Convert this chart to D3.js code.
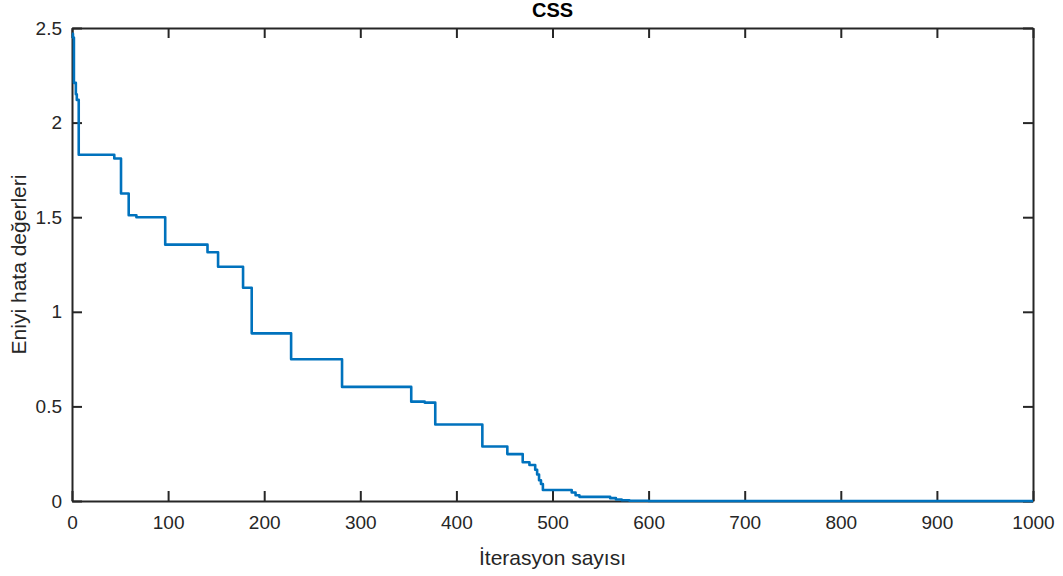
<!DOCTYPE html>
<html>
<head>
<meta charset="utf-8">
<script src="https://cdn.jsdelivr.net/npm/d3@7"></script>
<style>
  body { margin: 0; background: #fff; }
  svg { display: block; font-family: "Liberation Sans", Arial, Helvetica, sans-serif; }
</style>
</head>
<body>
<svg id="chart" width="1063" height="576"></svg>
<script>
// Data: change points of best error (iteration, value), drawn as step-after line
const iterations = [0, 1, 2, 4, 5, 7, 44, 51, 59, 67, 97, 141, 152, 178, 187, 228, 281, 353, 367, 378, 427, 453, 469, 476, 482, 484, 486, 488, 490, 520, 524, 528, 560, 566, 572, 580, 600, 1000];
const bestValues = [2.47, 2.45, 2.21, 2.15, 2.12, 1.83, 1.81, 1.625, 1.51, 1.50, 1.355, 1.315, 1.238, 1.127, 0.886, 0.749, 0.603, 0.525, 0.52, 0.404, 0.288, 0.248, 0.205, 0.19, 0.165, 0.14, 0.11, 0.09, 0.058, 0.045, 0.03, 0.022, 0.015, 0.008, 0.004, 0.001, 0, 0];
const xTicks = [0, 100, 200, 300, 400, 500, 600, 700, 800, 900, 1000];
const yTicks = [0, 0.5, 1, 1.5, 2, 2.5];
const titleText = "CSS";
const xLabel = "İterasyon sayısı";
const yLabel = "Eniyi hata değerleri";

const svg = d3.select("#chart");
const mLeft = 72, mRight = 1033, mTop = 28, mBottom = 501;
const x = d3.scaleLinear().domain([0, 1000]).range([mLeft, mRight]);
const y = d3.scaleLinear().domain([0, 2.5]).range([mBottom, mTop]);
const axisColor = "#262626";
const fs = 19;
const labelFs = 21;

// Axes with inward ticks
const gx = svg.append("g").attr("transform", `translate(0,${mBottom})`)
  .call(d3.axisBottom(x).tickValues(xTicks).tickSizeInner(-10).tickSizeOuter(0).tickPadding(15).tickFormat(d3.format("d")));
const gxTop = svg.append("g").attr("transform", `translate(0,${mTop})`)
  .call(d3.axisTop(x).tickValues(xTicks).tickSizeInner(-10).tickSizeOuter(0).tickFormat(""));
const gy = svg.append("g").attr("transform", `translate(${mLeft},0)`)
  .call(d3.axisLeft(y).tickValues(yTicks).tickSizeInner(-10).tickSizeOuter(0).tickPadding(10).tickFormat(d => String(d)));
const gyRight = svg.append("g").attr("transform", `translate(${mRight},0)`)
  .call(d3.axisRight(y).tickValues(yTicks).tickSizeInner(-10).tickSizeOuter(0).tickFormat(""));

[gx, gxTop, gy, gyRight].forEach(g => {
  g.select(".domain").attr("stroke", axisColor).attr("stroke-width", 2);
  g.selectAll(".tick line").attr("stroke", axisColor).attr("stroke-width", 2);
  g.selectAll(".tick text").attr("fill", axisColor).attr("font-size", fs)
    .attr("font-family", "'Liberation Sans', Arial, Helvetica, sans-serif");
});
gx.selectAll(".tick text").attr("dy", "0.71em");

// Line
const data = iterations.map((d, i) => [d, bestValues[i]]);
svg.append("path")
  .datum(data)
  .attr("fill", "none")
  .attr("stroke", "#0072BD")
  .attr("stroke-width", 2.6)
  .attr("stroke-linejoin", "round")
  .attr("d", d3.line().x(d => x(d[0])).y(d => y(d[1])).curve(d3.curveStepAfter));

// Title and labels
svg.append("text").attr("x", (mLeft + mRight) / 2).attr("y", 17)
  .attr("text-anchor", "middle").attr("font-weight", "bold").attr("font-size", 20)
  .attr("fill", "#000").text(titleText);
svg.append("text").attr("x", (mLeft + mRight) / 2).attr("y", 565)
  .attr("text-anchor", "middle").attr("font-size", labelFs).attr("fill", axisColor).text(xLabel);
svg.append("text").attr("transform", `translate(26,${(mTop + mBottom) / 2}) rotate(-90)`)
  .attr("text-anchor", "middle").attr("font-size", labelFs).attr("fill", axisColor).text(yLabel);
</script>
</body>
</html>
